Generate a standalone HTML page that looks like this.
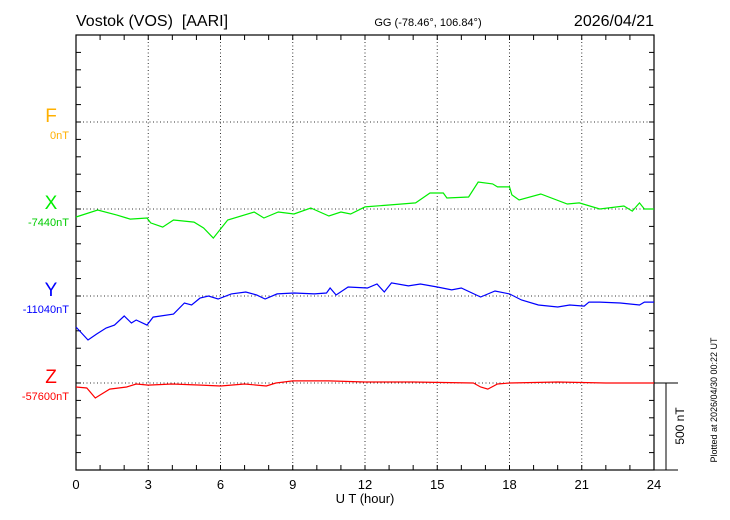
<!DOCTYPE html>
<html><head><meta charset="utf-8"><style>
body{margin:0;background:#fff;}
svg{display:block;font-family:"Liberation Sans",sans-serif;}
</style></head><body>
<svg id="chart" width="730" height="520" viewBox="0 0 730 520" xmlns="http://www.w3.org/2000/svg">
<text x="76" y="26" font-size="16">Vostok (VOS)&#160; [AARI]</text>
<text x="428" y="26" font-size="11" text-anchor="middle">GG (-78.46°, 106.84°)</text>
<text x="654" y="26" font-size="16" text-anchor="end">2026/04/21</text>
<g id="grid"></g><g id="axes"></g><g id="series"></g>
<text x="51" y="122" font-size="19" fill="#ffb000" text-anchor="middle">F</text>
<text x="69" y="139" font-size="11" fill="#ffb000" text-anchor="end">0nT</text>
<text x="51" y="209" font-size="19" fill="#00ee00" text-anchor="middle">X</text>
<text x="69" y="226" font-size="11" fill="#00cc00" text-anchor="end">-7440nT</text>
<text x="51" y="296" font-size="19" fill="#0000ff" text-anchor="middle">Y</text>
<text x="69" y="313" font-size="11" fill="#0000ff" text-anchor="end">-11040nT</text>
<text x="51" y="383" font-size="19" fill="#ff0000" text-anchor="middle">Z</text>
<text x="69" y="400" font-size="11" fill="#ff0000" text-anchor="end">-57600nT</text>
<text x="365" y="503" font-size="13" text-anchor="middle">U T (hour)</text>
<text transform="translate(684,426) rotate(-90)" font-size="12" text-anchor="middle">500 nT</text>
<text transform="translate(717,400) rotate(-90)" font-size="9" text-anchor="middle">Plotted at 2026/04/30 00:22 UT</text>
</svg>
<script>
const xTicks=[0,3,6,9,12,15,18,21,24];
const baselines=[122,209,296,383];
const xT=[0,0.9,1.7,2.25,2.95,3.1,3.6,4.05,4.9,5.3,5.7,6.3,7.4,7.8,8.4,9.05,9.75,10.5,11,11.4,12,13,14.1,14.7,15.25,15.4,16.3,16.7,17.3,17.5,18,18.1,18.4,19.3,20.4,20.9,21.75,22.75,23.1,23.4,23.6,24];
const xV=[-46,-6,-35,-58,-52,-80,-104,-63,-75,-109,-167,-63,-17,-52,-17,-29,6,-40,-17,-29,12,23,35,92,92,63,69,155,144,127,127,81,52,86,29,35,0,17,-12,35,0,0];
const yT=[0,0.5,0.85,1.25,1.6,2,2.3,2.5,2.95,3.2,4.05,4.5,4.8,5.15,5.5,5.9,6.45,7.05,7.5,7.85,8.35,9.05,9.9,10.4,10.55,10.8,11.3,12.1,12.5,12.8,13.1,13.8,14.3,15,15.6,16,16.8,17.4,18,18.5,19.2,20,20.5,21.1,21.3,21.75,22.6,23.4,23.6,24];
const yV=[-178,-253,-219,-184,-167,-115,-155,-138,-167,-121,-104,-40,-52,-12,0,-17,12,23,6,-17,12,17,12,17,46,6,52,46,69,23,75,58,69,52,35,46,-6,29,12,-23,-52,-63,-52,-58,-35,-35,-40,-52,-35,-35];
const zT=[0,0.45,0.8,1,1.4,2.1,2.5,3,4,5.2,6,7,7.9,8.3,9,10.5,12,14,16.5,16.8,17.1,17.5,18,20,22,24];
const zV=[-23,-29,-86,-69,-35,-23,-6,-12,-6,-12,-17,-6,-17,0,12,12,6,6,0,-23,-35,-6,0,6,0,0];
const L=76,R=654,T=35,B=470,PXNT=87/500;
const sx=h=>L+(R-L)*h/24;
const sy=(v,base)=>base-v*PXNT;
const NS="http://www.w3.org/2000/svg";
function mk(tag,parent,attrs){const e=document.createElementNS(NS,tag);for(const k in attrs)e.setAttribute(k,attrs[k]);parent.appendChild(e);return e;}
const grid=document.getElementById('grid'),axes=document.getElementById('axes'),ser=document.getElementById('series');
xTicks.slice(1,-1).forEach(h=>{
  const l=mk('line',grid,{x1:sx(h),x2:sx(h),y1:T,y2:B,stroke:'#333','stroke-dasharray':'1,2.5','stroke-width':1});
  
  
});
baselines.forEach(b=>{
  const l=mk('line',grid,{x1:L,x2:R,y1:b,y2:b,stroke:'#333','stroke-dasharray':'1,2.5','stroke-width':1});
  
  
});
const frame=mk('rect',axes,{x:L,y:T,width:R-L,height:B-T,fill:'none',stroke:'#000','stroke-width':1.2});


for(let h=1;h<24;h++){
  mk('line',axes,{x1:sx(h),x2:sx(h),y1:T,y2:T+5,stroke:'#000'});
  mk('line',axes,{x1:sx(h),x2:sx(h),y1:B,y2:B-5,stroke:'#000'});
}
for(let i=1;i<25;i++){const y=T+i*87/5;
  mk('line',axes,{x1:L,x2:L+5,y1:y,y2:y,stroke:'#000'});
  mk('line',axes,{x1:R,x2:R-5,y1:y,y2:y,stroke:'#000'});}
xTicks.forEach(h=>{
  const t=mk('text',axes,{x:sx(h),y:489,'font-size':13,'text-anchor':'middle'});
  t.textContent=h;
  
  
});
const sb=mk('path',axes,{d:`M${R} 383 H678 M666 383 V${B} M${R} ${B} H678`,stroke:'#000',fill:'none'});


function line(ts,vs,base,color,name){
  const d=ts.map((t,i)=>(i?'L':'M')+sx(t).toFixed(1)+' '+sy(vs[i],base).toFixed(1)).join(' ');
  const p=mk('path',ser,{d:d,stroke:color,fill:'none','stroke-width':1.2});
  
  
}
line(xT,xV,209,'#00ee00','x-component-line');
line(yT,yV,296,'#0000ff','y-component-line');
line(zT,zV,383,'#ff0000','z-component-line');
</script>
</body></html>
